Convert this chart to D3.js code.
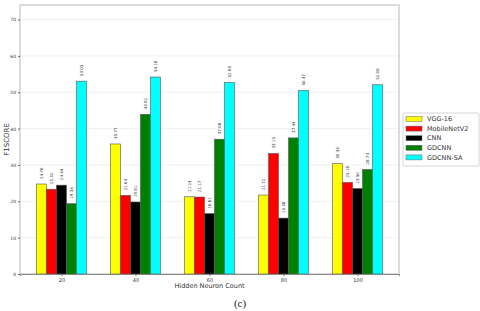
<!DOCTYPE html>
<html>
<head>
<meta charset="utf-8">
<script src="https://cdn.jsdelivr.net/npm/d3@7"></script>
<style>
  body { margin: 0; background: #fff; }
  text { font-family: "DejaVu Sans", sans-serif; }
</style>
</head>
<body>
<div id="chart"></div>
<script>
const groups = ['20', '40', '60', '80', '100']
const models = ['VGG-16', 'MobileNetV2', 'CNN', 'GDCNN', 'GDCNN-SA']
const colors = ['#ffff00', '#ff0000', '#000000', '#008000', '#00ffff']
const values = [
  [24.76, 35.77, 21.24, 21.72, 30.34],
  [23.32, 21.64, 21.17, 33.15, 25.18],
  [24.44, 19.81, 16.61, 15.38, 23.5],
  [19.34, 43.92, 37.08, 37.44, 28.74],
  [53.05, 54.18, 52.69, 50.47, 52.06]
]
const yTicks = [0, 10, 20, 30, 40, 50, 60, 70]

let margin = { top: 5, left: 20, right: 81, bottom: 37 }
let width = 480 - margin.left - margin.right
let height = 311 - margin.top - margin.bottom

let svg = d3.select('#chart')
  .append('svg')
  .attr('width', 480)
  .attr('height', 311)

let g = svg.append('g')
  .attr('transform', `translate(${margin.left}, ${margin.top})`)

let x = d3.scalePoint().domain(groups).range([0, width]).padding(0.56)
let inner = d3.scaleBand().domain(models).range([-25, 25])
let y = d3.scaleLinear().domain([0, 74]).range([height, 0])

// gridlines
g.append('g')
  .selectAll('line')
  .data(yTicks.slice(1))
  .enter()
  .append('line')
  .attr('x1', 0)
  .attr('x2', width)
  .attr('y1', d => y(d))
  .attr('y2', d => y(d))
  .attr('stroke', '#ececec')
  .attr('stroke-width', 0.8)

// frame
g.append('rect')
  .attr('x', 0)
  .attr('y', 0)
  .attr('width', width)
  .attr('height', height)
  .attr('fill', 'none')
  .attr('stroke', '#d0d0d0')
  .attr('stroke-width', 1.5)

let rows = []
models.forEach((m, i) => {
  groups.forEach((gr, j) => rows.push({ model: m, group: gr, value: values[i][j], color: colors[i] }))
})

g.append('g')
  .selectAll('rect')
  .data(rows)
  .enter()
  .append('rect')
  .attr('x', d => x(d.group) + inner(d.model))
  .attr('y', d => y(d.value))
  .attr('width', inner.bandwidth())
  .attr('height', d => height - y(d.value))
  .attr('fill', d => d.color)
  .attr('stroke', '#555')
  .attr('stroke-width', 0.6)

g.append('g')
  .selectAll('text')
  .data(rows)
  .enter()
  .append('text')
  .attr('transform', d => {
    let cx = x(d.group) + inner(d.model) + inner.bandwidth() / 2 + 1.5
    return `translate(${cx}, ${y(d.value) - 5}) rotate(-90)`
  })
  .attr('font-size', 4)
  .attr('fill', '#333')
  .text(d => d.value.toFixed(2))

// y axis
let yAxis = g.append('g')
  .call(d3.axisLeft(y).tickValues(yTicks).tickSize(2).tickPadding(2))
yAxis.select('.domain').remove()
yAxis.selectAll('text').attr('font-size', 4.5).attr('fill', '#333')
yAxis.selectAll('line').attr('stroke', '#666')

// x axis
let xAxis = g.append('g')
  .attr('transform', `translate(0, ${height})`)
  .call(d3.axisBottom(x).tickSize(2).tickPadding(2))
xAxis.select('.domain').attr('stroke', '#888').attr('stroke-width', 1)
xAxis.selectAll('text').attr('font-size', 5).attr('fill', '#333')
xAxis.selectAll('line').attr('stroke', '#666')

svg.append('text')
  .attr('x', margin.left + width / 2)
  .attr('y', 288)
  .attr('text-anchor', 'middle')
  .attr('font-size', 6.5)
  .attr('fill', '#333')
  .text('Hidden Neuron Count')

svg.append('text')
  .attr('transform', `translate(9, ${margin.top + height / 2}) rotate(-90)`)
  .attr('text-anchor', 'middle')
  .attr('font-size', 7)
  .attr('fill', '#333')
  .text('F1SCORE')

svg.append('text')
  .attr('x', 240)
  .attr('y', 307)
  .attr('text-anchor', 'middle')
  .attr('font-size', 11)
  .style('font-family', '"Liberation Serif", "DejaVu Serif", serif')
  .attr('fill', '#222')
  .text('(c)')

// legend
let legend = svg.append('g').attr('transform', 'translate(403, 113)')
legend.append('rect')
  .attr('width', 76)
  .attr('height', 53)
  .attr('fill', '#fff')
  .attr('stroke', '#ccc')
  .attr('stroke-width', 0.8)
  .attr('rx', 1)

let items = legend.selectAll('.item')
  .data(models)
  .enter()
  .append('g')
  .attr('transform', (d, i) => `translate(3, ${6 + i * 9.6})`)
items.append('rect')
  .attr('width', 16)
  .attr('height', 5)
  .attr('y', -2.5)
  .attr('fill', (d, i) => colors[i])
  .attr('stroke', '#666')
  .attr('stroke-width', 0.5)
items.append('text')
  .attr('x', 21)
  .attr('dy', '0.35em')
  .attr('font-size', 6.5)
  .attr('fill', '#333')
  .text(d => d)
</script>
</body>
</html>
